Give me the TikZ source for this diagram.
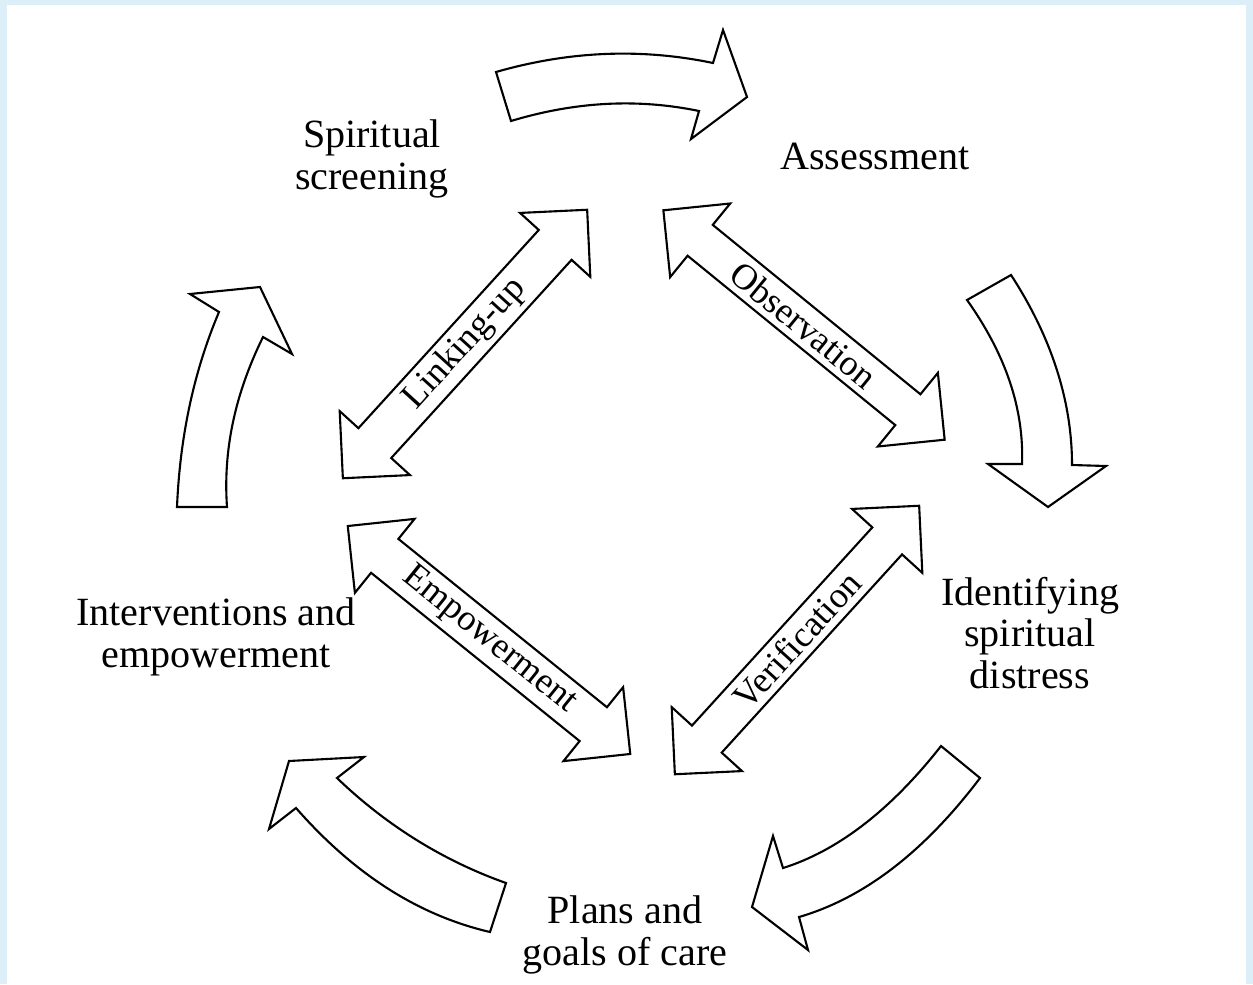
\documentclass[tikz,border=0pt]{standalone}
\usepackage{fontspec}
\setmainfont{Liberation Serif}
\usetikzlibrary{shapes.arrows}
\definecolor{pageblue}{RGB}{220,238,247}
\tikzset{
  stage/.style={
    align=center,
    inner sep=0pt,
    font=\fontsize{11.4}{11.8}\selectfont
  },
  link/.style={
    double arrow,
    draw=black, line width=0.6pt,
    fill=white,
    double arrow tip angle=90,
    double arrow head extend=0.24cm,
    minimum width=0.95cm,
    minimum height=3.63cm,
    inner sep=1pt,
    font=\fontsize{10.3}{12}\selectfont
  },
  turn/.style={draw=black, line width=0.6pt, fill=white, line join=miter},
}
\begin{document}
\begin{tikzpicture}[x=0.1mm, y=-0.1mm]
  % page and frame
  \fill[pageblue] (0,0) rectangle (1253,984);
  \fill[white] (7,5) rectangle (1246,984);

  % the five stages
  \node[stage] (screen)   at (372,159)  {Spiritual\\screening};
  \node[stage] (assess)   at (875,156)  {Assessment};
  \node[stage] (distress) at (1030,633) {Identifying\\spiritual\\distress};
  \node[stage] (plans)    at (625,935)  {Plans and\\goals of care};
  \node[stage] (interv)   at (216,637)  {Interventions and\\empowerment};

  % links across the middle
  \node[link, rotate=47.7]  (linking) at (465,344) {Linking-up};
  \node[link, rotate=-39.2] (observ)  at (804,325) {Observation};
  \node[link, rotate=-38.9] (empow)   at (489,640) {Empowerment};
  \node[link, rotate=47.7]  (verif)   at (797,640) {Verification};

  % curved arrows round the cycle
  \draw[turn] (496,72) .. controls (569,51) and (641,48) .. (713,63)
    -- (723,30) -- (747,97) -- (691,139) -- (699,111)
    .. controls (636,98) and (574,102) .. (511,121) -- cycle;
  \draw[turn] (1011,275) .. controls (1052,338) and (1072,402) .. (1072,465)
    -- (1106,466) -- (1048,507) -- (988,464) -- (1022,464)
    .. controls (1024,409) and (1006,355) .. (967,300) -- cycle;
  \draw[turn] (980,778) .. controls (924,852) and (864,898) .. (799,917)
    -- (808,950) -- (752,907) -- (773,836) -- (783,868)
    .. controls (837,851) and (890,811) .. (941,746) -- cycle;
  \draw[turn] (490,932) .. controls (417,915) and (353,873) .. (296,808)
    -- (269,829) -- (289,761) -- (364,757) -- (337,778)
    .. controls (387,826) and (444,861) .. (506,883) -- cycle;
  \draw[turn] (177,507) .. controls (180,436) and (194,371) .. (219,312)
    -- (190,294) -- (260,287) -- (292,354) -- (263,337)
    .. controls (235,394) and (223,450) .. (227,507) -- cycle;
\end{tikzpicture}
\end{document}
